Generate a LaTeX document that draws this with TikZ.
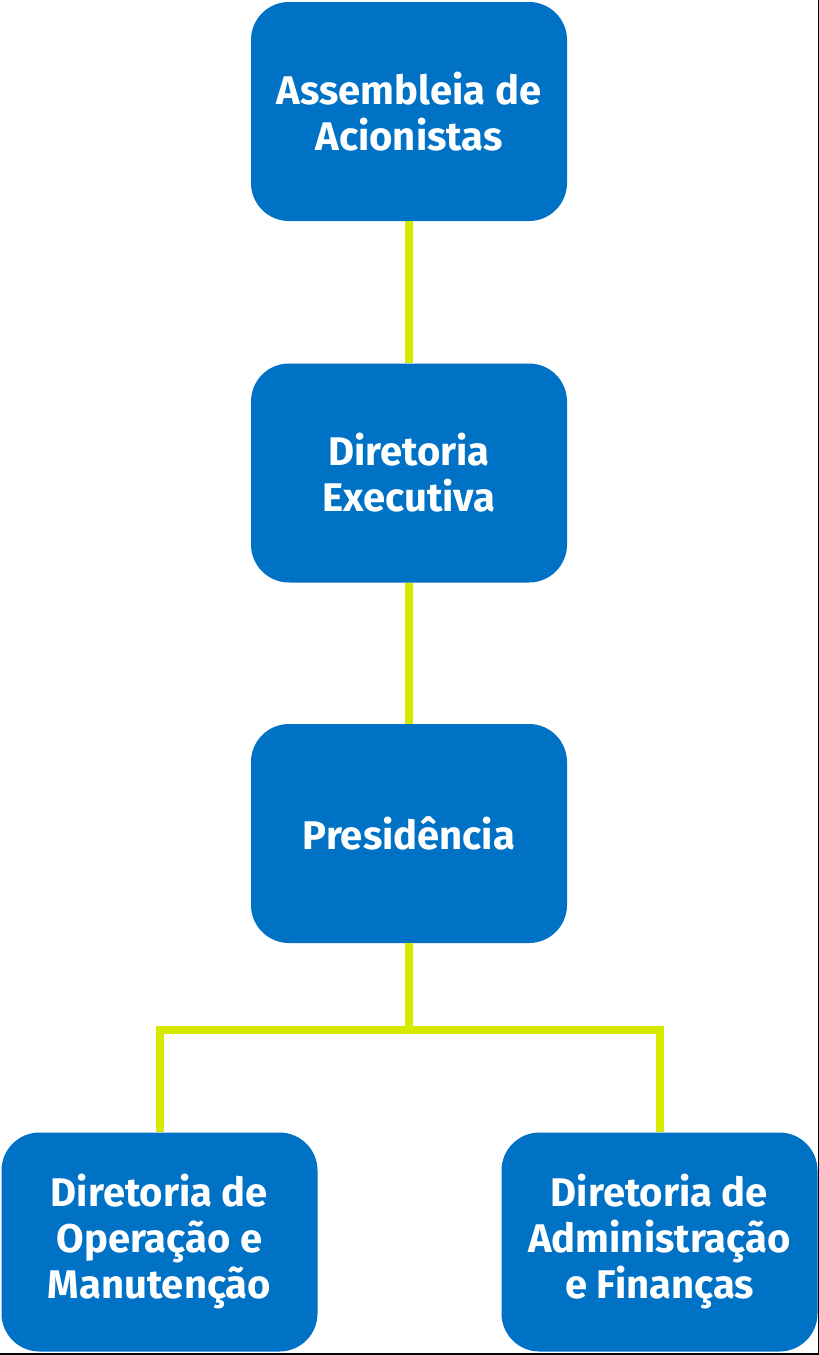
\documentclass[tikz,border=0pt]{standalone}
\usepackage{fontspec}
\setmainfont{Fira Sans}
\definecolor{azul}{RGB}{0,114,198}
\definecolor{verde}{RGB}{214,234,0}
\begin{document}
\begin{tikzpicture}[x=0.5pt, y=-0.5pt, line join=miter,
	caixa/.style={fill=azul, rounded corners=19pt, minimum width=158pt, minimum height=109.5pt, inner sep=0pt, align=center, text=white, font=\fontsize{20}{23}\selectfont\bfseries},
	ligacao/.style={draw=verde, line width=4pt}]
	\useasboundingbox (0,0) rectangle (819,1355);
	\node[caixa] (asm) at (409,111.5) {Assembleia de\\Acionistas};
	\node[caixa] (dex) at (409,473) {Diretoria\\Executiva};
	\node[caixa] (pre) at (409,833.5) {Presidência};
	\node[caixa] (dom) at (159.5,1242) {Diretoria de\\Operação e\\Manutenção};
	\node[caixa] (daf) at (659.5,1242) {Diretoria de\\Administração\\e Finanças};
	\coordinate (ramo) at (409,1030);
	\begin{scope}[on background layer/.try]
		\draw[ligacao] (asm) -- (dex);
		\draw[ligacao] (dex) -- (pre);
		\draw[ligacao] (pre) -- (ramo);
		\draw[ligacao] (dom.north) |- (ramo) -| (daf.north);
	\end{scope}
	% moldura
	\draw[line width=1pt] (818.5,0) -- (818.5,1353.5) -- (0,1353.5);
\end{tikzpicture}
\end{document}
